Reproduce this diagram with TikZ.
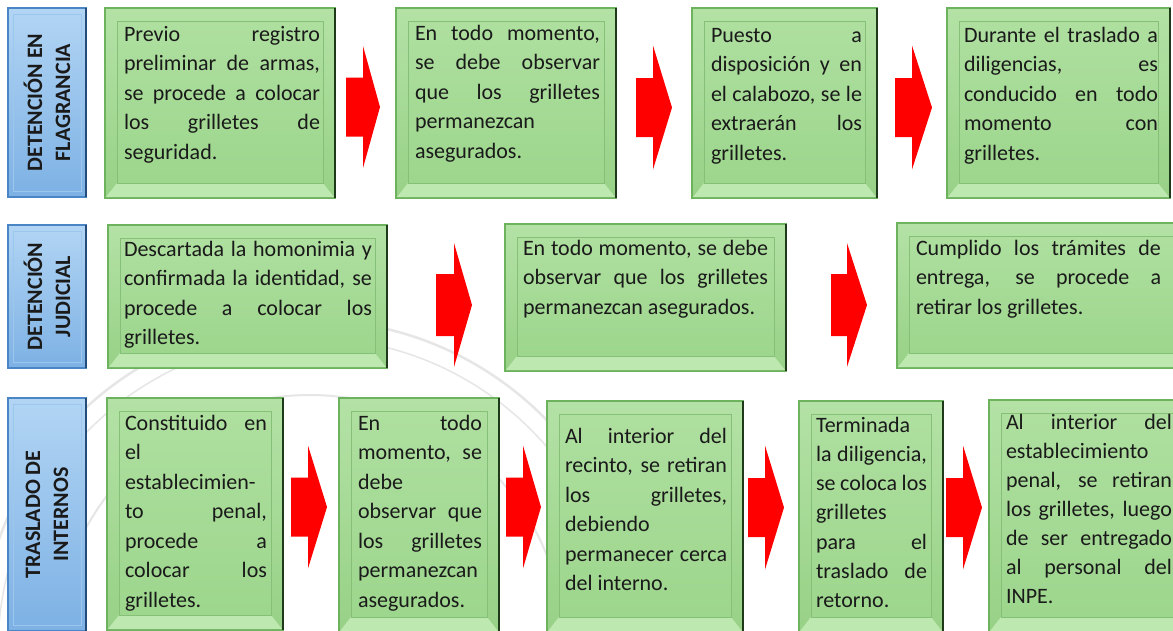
\documentclass[tikz,border=0pt]{standalone}
\usepackage{fontspec}
\setmainfont{Carlito}
\usetikzlibrary{calc}
\definecolor{gtop}{HTML}{B4E2A6}
\definecolor{gbot}{HTML}{97D186}
\definecolor{gintop}{HTML}{AEDF9F}
\definecolor{ginbot}{HTML}{9DD68D}
\definecolor{gedge}{HTML}{6DB35E}
\definecolor{gdark}{HTML}{1F3A1A}
\definecolor{gin}{HTML}{86C078}
\definecolor{gband}{HTML}{BDE8AF}
\definecolor{btop}{HTML}{B2D5F4}
\definecolor{bbot}{HTML}{7DB1E4}
\definecolor{bedge}{HTML}{4A86C5}
\definecolor{bdark}{HTML}{244C7A}
\definecolor{bin}{HTML}{9CC6EE}
\definecolor{arrowred}{HTML}{FF0000}
\definecolor{txtcol}{HTML}{1A1A1A}
\definecolor{wmark}{HTML}{E6E6E6}
\newcommand{\fs}{\fontsize{22}{29.5}\selectfont}
\newcommand{\JL}[1]{\makebox[\linewidth][s]{#1}\par}
\newcommand{\LL}[1]{#1\par}
\tikzset{
  gouter/.style={draw=gedge, line width=1.3pt, top color=gtop, bottom color=gbot, inner sep=0pt, outer sep=0pt, anchor=north west},
  lblbox/.style={draw=bedge, line width=1.3pt, top color=btop, bottom color=bbot, inner sep=0pt, outer sep=0pt, anchor=north west},
  txt/.style={anchor=base west, inner sep=0pt, outer sep=0pt, text=txtcol},
  lbltxt/.style={rotate=90, align=center, font=\fontsize{22}{28}\selectfont\bfseries, text=txtcol, inner sep=0pt},
}
% name, x1, y1, x2, y2
\newcommand{\gbox}[5]{%
  \node[gouter, minimum width={#4-#2}, minimum height={#5-#3}] (#1) at (#2,#3) {};
  \fill[gband] ($(#1.south west)+(1,-1)$) -- ($(#1.south west)+(12,-15)$) -- ($(#1.south east)+(-12,-15)$) -- ($(#1.south east)+(-1,-1)$) -- cycle;
  \draw[gin, line width=0.8pt, top color=gintop, bottom color=ginbot] ($(#1.north west)+(12,13)$) rectangle ($(#1.south east)+(-12,-15)$);
  \draw[gdark, line width=2pt] (#1.north east) -- (#1.south east);
}
\newcommand{\lbox}[5]{%
  \node[lblbox, minimum width={#4-#2}, minimum height={#5-#3}] (#1) at (#2,#3) {};
  \draw[bin, line width=0.8pt] ($(#1.north west)+(5,6)$) rectangle ($(#1.south east)+(-5,-6)$);
  \draw[bdark, line width=2pt] (#1.north east) -- (#1.south east);
}
% xl, xh, xt, yc, shaft half, head half
\newcommand{\barrow}[6]{%
  \fill[arrowred] (#1,#4-#5) -- (#2,#4-#5) -- (#2,#4-#6) -- (#3,#4) -- (#2,#4+#6) -- (#2,#4+#5) -- (#1,#4+#5) -- cycle;
}
\begin{document}
\begin{tikzpicture}[x=1pt,y=-1pt]
\useasboundingbox (0,0) rectangle (1173,630);
\clip (0,0) rectangle (1173,630);
\fill[white] (0,0) rectangle (1173,630);
% faint watermark
\draw[wmark, line width=2.5pt] (310,650) circle[radius=330];
\draw[wmark, line width=1.5pt] (310,650) circle[radius=312];
\draw[wmark, line width=2pt] (310,650) circle[radius=255];

% ---------- Row 1 ----------
\lbox{l1}{8}{8}{86}{197}
\node[lbltxt] (l1t) at (l1.center) {DETENCIÓN EN\\FLAGRANCIA};

\gbox{b1}{105}{8}{335}{198}
\node[txt] (t1) at (124,41) {\parbox[t]{196pt}{\fs
\JL{Previo registro}
\JL{preliminar de armas,}
\JL{se procede a colocar}
\JL{los grilletes de}
\LL{seguridad.}}};

\gbox{b2}{396}{8}{616}{198}
\node[txt] (t2) at (415,40) {\parbox[t]{185pt}{\fs
\JL{En todo momento,}
\JL{se debe observar}
\JL{que los grilletes}
\LL{permanezcan}
\LL{asegurados.}}};

\gbox{b3}{692}{8}{877}{198}
\node[txt] (t3) at (711,42) {\parbox[t]{151pt}{\fs
\JL{Puesto a}
\JL{disposición y en}
\JL{el calabozo, se le}
\JL{extraerán los}
\LL{grilletes.}}};

\gbox{b4}{947}{8}{1170}{198}
\node[txt] (t4) at (964,42) {\parbox[t]{194pt}{\fs
\JL{Durante el traslado a}
\JL{diligencias, es}
\JL{conducido en todo}
\JL{momento con}
\LL{grilletes.}}};

\barrow{346}{363}{380}{107}{29.5}{61}
\barrow{636}{653}{672}{107.5}{29.5}{62}
\barrow{895}{912}{932}{107.5}{29.5}{62}

% ---------- Row 2 ----------
\lbox{l2}{8}{225}{86}{368}
\node[lbltxt] (l2t) at (l2.center) {DETENCIÓN\\JUDICIAL};

\gbox{b5}{108}{225}{387}{368}
\node[txt] (t5) at (124,256) {\parbox[t]{248pt}{\fs
\JL{Descartada la homonimia y}
\JL{confirmada la identidad, se}
\JL{procede a colocar los}
\LL{grilletes.}}};

\gbox{b6}{505}{224}{786}{371}
\node[txt] (t6) at (523,255) {\parbox[t]{245pt}{\fs
\JL{En todo momento, se debe}
\JL{observar que los grilletes}
\LL{permanezcan asegurados.}}};

\gbox{b7}{897}{223}{1185}{368}
\node[txt] (t7) at (916,255) {\parbox[t]{245pt}{\fs
\JL{Cumplido los trámites de}
\JL{entrega, se procede a}
\LL{retirar los grilletes.}}};

\barrow{436}{454}{472}{305}{31}{62}
\barrow{831}{847}{867}{305}{31}{62}

% ---------- Row 3 ----------
\lbox{l3}{8}{398}{86}{631}
\node[lbltxt] (l3t) at (l3.center) {TRASLADO DE\\INTERNOS};

\gbox{b8}{107}{398}{283}{630}
\node[txt] (t8) at (125,430) {\parbox[t]{142pt}{\fs
\JL{Constituido en}
\LL{el}
\LL{establecimien-}
\JL{to penal,}
\JL{procede a}
\JL{colocar los}
\LL{grilletes.}}};

\gbox{b9}{339}{398}{499}{632}
\node[txt] (t9) at (358,430) {\parbox[t]{124pt}{\fs
\JL{En todo}
\JL{momento, se}
\LL{debe}
\JL{observar que}
\JL{los grilletes}
\LL{permanezcan}
\LL{asegurados.}}};

\gbox{b10}{547}{401}{743}{632}
\node[txt] (t10) at (565,443) {\parbox[t]{162pt}{\fs
\JL{Al interior del}
\JL{recinto, se retiran}
\JL{los grilletes,}
\LL{debiendo}
\JL{permanecer cerca}
\LL{del interno.}}};

\gbox{b11}{799}{401}{943}{632}
\node[txt] (t11) at (816,432) {\parbox[t]{111pt}{\fontsize{22}{29.3}\selectfont
\LL{Terminada}
\JL{la diligencia,}
\JL{se coloca los}
\LL{grilletes}
\JL{para el}
\JL{traslado de}
\LL{retorno.}}};

\gbox{b12}{989}{400}{1185}{632}
\node[txt] (t12) at (1006,429) {\parbox[t]{166pt}{\fontsize{22}{29.1}\selectfont
\JL{Al interior del}
\LL{establecimiento}
\JL{penal, se retiran}
\JL{los grilletes, luego}
\JL{de ser entregado}
\JL{al personal del}
\LL{INPE.}}};

\barrow{291}{308}{327}{507}{29.5}{61.5}
\barrow{506}{523}{541}{507}{29.5}{61.5}
\barrow{748}{765}{784}{507.5}{29.5}{62}
\barrow{946}{963}{982}{507.5}{29.5}{62}
\end{tikzpicture}
\end{document}
